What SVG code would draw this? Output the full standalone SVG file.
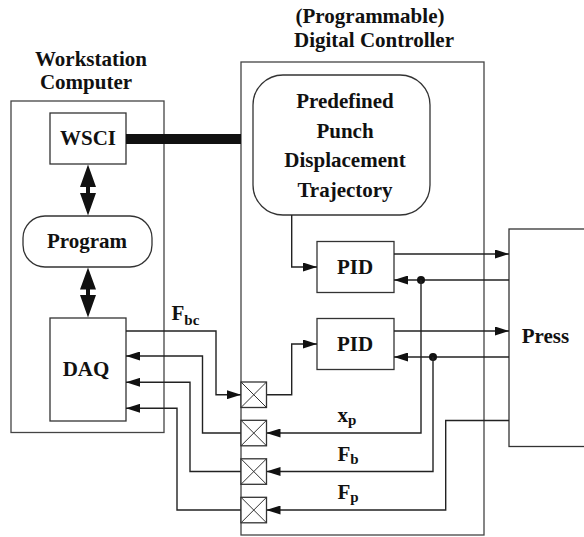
<svg xmlns="http://www.w3.org/2000/svg" width="584" height="537" viewBox="0 0 584 537">
<defs>
<marker id="ah" markerUnits="userSpaceOnUse" markerWidth="14" markerHeight="9" refX="14" refY="4.5" orient="auto">
<path d="M0,0 L14,4.5 L0,9 Z" fill="#111"/>
</marker>
<g id="xbox">
<rect x="0" y="0" width="25.5" height="25.5" fill="#fff" stroke="#333" stroke-width="1.3"/>
<path d="M0,0 L25.5,25.5 M25.5,0 L0,25.5" stroke="#333" stroke-width="1"/>
</g>
</defs>
<style>
.t{font-family:"Liberation Serif","Times New Roman",serif;font-weight:bold;font-size:21px;fill:#111;text-anchor:middle}
.l{font-family:"Liberation Serif","Times New Roman",serif;font-weight:bold;font-size:21px;fill:#111}
.s{font-size:15px}
.box{fill:#fff;stroke:#333;stroke-width:1.3}
.frame{fill:none;stroke:#444;stroke-width:1.3}
.c{fill:none;stroke:#222;stroke-width:1.4}
.a{marker-end:url(#ah)}
.dbl{fill:#111}
</style>
<rect width="584" height="537" fill="#fff"/>

<g id="titles">
<text class="t" x="370" y="23">(Programmable)</text>
<text class="t" x="374" y="47">Digital Controller</text>
<text class="t" x="91" y="66">Workstation</text>
<text class="t" x="86" y="89">Computer</text>
</g>

<g id="workstation"><rect class="frame" x="11" y="101" width="153" height="331.5"/></g>
<g id="controller"><rect class="frame" x="241" y="62" width="243" height="473"/></g>
<g id="press">
<rect class="box" x="509" y="229" width="100" height="217.5"/>
<text class="t" x="545.5" y="343">Press</text>
</g>

<g id="wsci"><rect class="box" x="50" y="113" width="76" height="51"/><text class="t" x="88" y="145">WSCI</text></g>
<g id="program"><rect class="box" x="23" y="216" width="129" height="51" rx="22" ry="22"/><text class="t" x="87" y="248">Program</text></g>
<g id="daq"><rect class="box" x="50" y="318" width="76" height="103"/><text class="t" x="86" y="376">DAQ</text></g>
<g id="trajectory">
<rect class="box" x="253" y="75" width="177" height="140" rx="30" ry="30"/>
<text class="t" x="345" y="108">Predefined</text>
<text class="t" x="345" y="137.5">Punch</text>
<text class="t" x="345" y="167">Displacement</text>
<text class="t" x="345" y="196.5">Trajectory</text>
</g>
<g id="pid1"><rect class="box" x="317" y="241.5" width="77" height="51"/><text class="t" x="355" y="274">PID</text></g>
<g id="pid2"><rect class="box" x="317" y="318.5" width="77" height="51"/><text class="t" x="355" y="350.5">PID</text></g>

<g id="connectors">
<line x1="126" y1="139" x2="241" y2="139" stroke="#111" stroke-width="10"/>
<line x1="88" y1="184" x2="88" y2="196" stroke="#111" stroke-width="4"/>
<path class="dbl" d="M88,164.5 L96,187 L80,187 Z M88,215.5 L96,193 L80,193 Z"/>
<line x1="88" y1="287" x2="88" y2="298" stroke="#111" stroke-width="4"/>
<path class="dbl" d="M88,267.5 L96,289.5 L80,289.5 Z M88,317.5 L96,295 L80,295 Z"/>

<polyline class="c a" points="126,331 216,331 216,394.7 241,394.7"/>
<polyline class="c a" points="266.5,394.7 291.7,394.7 291.7,344 317,344"/>
<polyline class="c a" points="291.7,215 291.7,267 317,267"/>
<polyline class="c a" points="394,254 509,254"/>
<polyline class="c a" points="509,280 394,280"/>
<polyline class="c a" points="394,331 509,331"/>
<polyline class="c a" points="509,357 394,357"/>
<circle cx="421" cy="280" r="4" fill="#111"/>
<circle cx="433" cy="357" r="4" fill="#111"/>
<polyline class="c a" points="421,280 421,433 266.5,433"/>
<polyline class="c a" points="433,357 433,471.5 266.5,471.5"/>
<polyline class="c a" points="509,420.5 445.7,420.5 445.7,510 266.5,510"/>
<polyline class="c a" points="241,433 202.5,433 202.5,356 126,356"/>
<polyline class="c a" points="241,471.5 190,471.5 190,382.3 126,382.3"/>
<polyline class="c a" points="241,510 177,510 177,408.3 126,408.3"/>
</g>

<g id="xboxes">
<use href="#xbox" x="241" y="382"/>
<use href="#xbox" x="241" y="420.3"/>
<use href="#xbox" x="241" y="458.8"/>
<use href="#xbox" x="241" y="497.3"/>
</g>

<g id="labels">
<text class="l" x="171.5" y="319.5">F<tspan class="s" dy="5">bc</tspan></text>
<text class="l" x="337.5" y="421.5">x<tspan class="s" dy="3">p</tspan></text>
<text class="l" x="337.5" y="460.5">F<tspan class="s" dy="3">b</tspan></text>
<text class="l" x="337.5" y="499">F<tspan class="s" dy="3">p</tspan></text>
</g>
</svg>
